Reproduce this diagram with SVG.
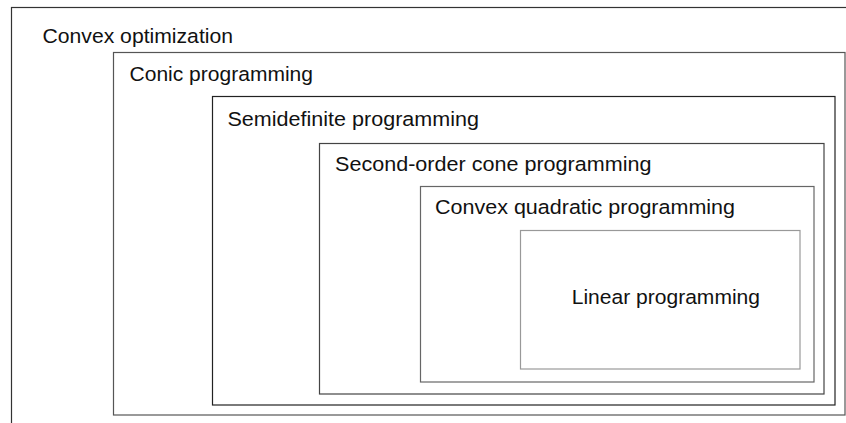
<svg xmlns="http://www.w3.org/2000/svg" width="846" height="423" viewBox="0 0 846 423">
  <style>
    .box { fill: none; stroke-width: 1.2; }
    .label { font-family: "Liberation Sans", Arial, Helvetica, sans-serif; font-size: 20.5px; fill: #111; }
  </style>
  <rect x="0" y="0" width="846" height="423" fill="#ffffff"/>
  <g id="convex-optimization">
    <rect class="box" x="11.5" y="7.5" width="850" height="430" stroke="#333"/>
    <text class="label" x="42.5" y="42.7" textLength="190.5" lengthAdjust="spacingAndGlyphs">Convex optimization</text>
  </g>
  <g id="conic-programming">
    <rect class="box" x="113.5" y="52.5" width="731.5" height="362.5" stroke="#555"/>
    <text class="label" x="129.5" y="80.7" textLength="183.5" lengthAdjust="spacingAndGlyphs">Conic programming</text>
  </g>
  <g id="semidefinite-programming">
    <rect class="box" x="212.5" y="96.5" width="622.5" height="308.5" stroke="#222"/>
    <text class="label" x="227.5" y="125.7" textLength="251.5" lengthAdjust="spacingAndGlyphs">Semidefinite programming</text>
  </g>
  <g id="second-order-cone-programming">
    <rect class="box" x="319.5" y="143.5" width="504.5" height="250.5" stroke="#444"/>
    <text class="label" x="335" y="170.7" textLength="316.5" lengthAdjust="spacingAndGlyphs">Second-order cone programming</text>
  </g>
  <g id="convex-quadratic-programming">
    <rect class="box" x="420.5" y="186.5" width="393.5" height="195.5" stroke="#666"/>
    <text class="label" x="435" y="213.7" textLength="300" lengthAdjust="spacingAndGlyphs">Convex quadratic programming</text>
  </g>
  <g id="linear-programming">
    <rect class="box" x="520.5" y="230.5" width="279.5" height="138.5" stroke="#999"/>
    <text class="label" x="571.7" y="303.7" textLength="188.3" lengthAdjust="spacingAndGlyphs">Linear programming</text>
  </g>
  <g id="connectors"/>
</svg>
